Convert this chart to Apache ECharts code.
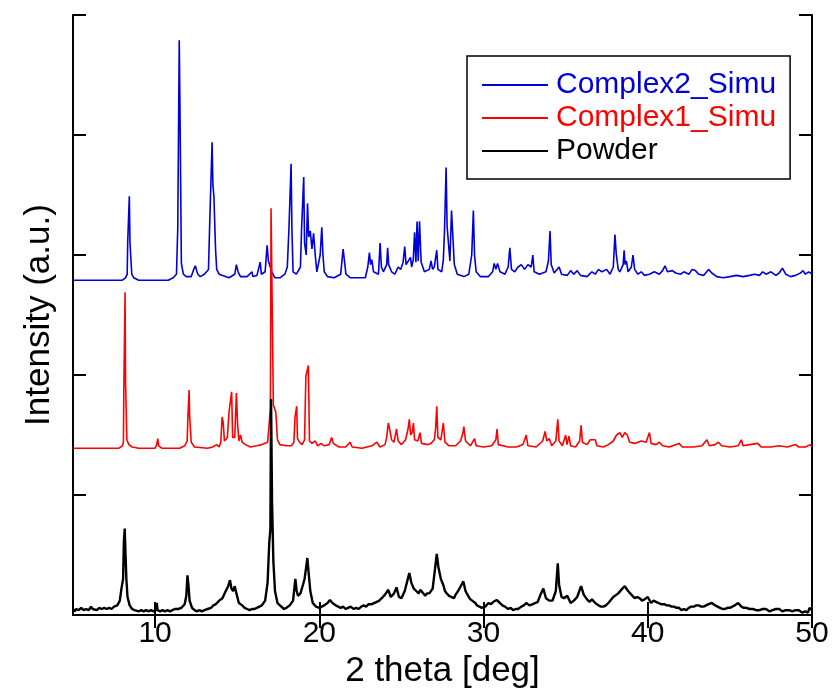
<!DOCTYPE html>
<html>
<head>
<meta charset="utf-8">
<script src="https://cdn.jsdelivr.net/npm/echarts@6/dist/echarts.min.js"></script>
<style>
  html, body { margin: 0; padding: 0; background: #fff; }
  #chart { width: 836px; height: 695px; }
</style>
</head>
<body>
<div id="chart"></div>
<script>
// 2 theta tick labels
const thetaTicks = [10, 20, 30, 40, 50]
const seriesNames = ['Complex2_Simu', 'Complex1_Simu', 'Powder']

// [2theta, intensity] (offset stacked)
const complex2Simu = [
  [5,2.79],[8.0,2.79],[8.2,2.81],[8.3,2.84],[8.33,3.10],[8.4,3.10],[8.43,3.49],[8.47,3.10],[8.55,3.10],[8.58,2.84],[8.7,2.81],[9.0,2.79],
  [10.8,2.79],[11.1,2.81],[11.3,2.84],[11.38,3.23],[11.44,3.23],[11.47,4.79],[11.51,4.28],[11.56,4.28],[11.6,2.93],[11.68,2.93],[11.72,2.84],
  [11.9,2.82],[12.2,2.82],[12.35,2.88],[12.45,2.91],[12.55,2.86],[12.6,2.84],[12.75,2.82],[13.0,2.84],[13.25,2.88],[13.32,3.24],[13.42,3.24],
  [13.47,3.94],[13.52,3.58],[13.58,3.49],[13.63,3.49],[13.68,3.05],[13.75,2.88],[13.9,2.84],[14.5,2.81],[14.85,2.84],[14.95,2.92],[15.05,2.86],
  [15.2,2.82],[15.6,2.82],[15.9,2.86],[15.95,2.82],[16.2,2.83],[16.4,2.94],[16.47,2.84],[16.7,2.86],[16.82,3.08],[16.9,2.95],[17.1,2.86],
  [17.3,2.81],[17.6,2.81],[17.9,2.84],[18.05,2.90],[18.15,3.22],[18.25,3.22],[18.28,3.76],[18.33,3.22],[18.4,2.86],[18.6,2.84],[18.85,2.90],
  [18.92,3.22],[19.0,3.22],[19.05,3.65],[19.1,3.10],[19.2,3.0],[19.28,3.43],[19.35,3.15],[19.45,3.2],[19.55,3.05],[19.65,3.18],[19.75,3.0],
  [19.85,2.86],[19.95,2.86],[20.05,3.0],[20.15,3.23],[20.22,3.0],[20.3,2.86],[20.5,2.82],[20.9,2.81],[21.3,2.84],[21.45,3.05],[21.55,3.05],
  [21.62,2.84],[21.9,2.81],[22.8,2.81],[22.95,2.9],[23.05,3.02],[23.12,2.92],[23.2,2.96],[23.3,2.86],[23.6,2.84],[23.7,3.10],[23.78,2.9],
  [23.9,2.86],[24.1,2.92],[24.16,3.06],[24.22,2.92],[24.4,2.86],[24.6,2.84],[24.8,2.9],[24.95,2.88],[25.1,2.94],[25.2,3.07],[25.28,2.92],
  [25.4,2.92],[25.55,2.98],[25.62,2.9],[25.72,2.96],[25.8,3.19],[25.88,2.94],[25.95,3.28],[26.02,2.95],[26.1,3.28],[26.2,2.94],[26.4,2.86],
  [26.7,2.88],[26.8,2.95],[26.9,2.88],[27.0,2.9],[27.15,3.04],[27.22,2.88],[27.45,2.86],[27.55,2.96],[27.62,3.19],[27.72,3.73],[27.78,3.24],
  [27.88,3.24],[27.95,2.95],[28.05,3.37],[28.15,3.37],[28.22,2.92],[28.4,2.84],[28.8,2.82],[29.1,2.84],[29.28,3.0],[29.38,3.37],[29.45,3.0],
  [29.55,2.86],[29.8,2.82],[30.3,2.82],[30.55,2.86],[30.65,2.93],[30.75,2.88],[30.85,2.93],[31.0,2.86],[31.3,2.84],[31.5,2.9],[31.6,3.06],
  [31.7,2.88],[31.9,2.86],[32.1,2.9],[32.3,2.92],[32.5,2.88],[32.7,2.92],[32.9,2.9],[33.0,3.0],[33.08,2.86],[33.4,2.84],[33.8,2.86],
  [33.95,2.95],[34.05,3.20],[34.12,2.92],[34.3,2.85],[34.6,2.9],[34.75,2.84],[35.1,2.83],[35.3,2.87],[35.5,2.84],[35.7,2.87],[35.9,2.83],
  [36.3,2.82],[36.6,2.86],[36.8,2.84],[37.0,2.88],[37.2,2.86],[37.5,2.88],[37.7,2.84],[37.9,2.9],[38.0,3.17],[38.08,3.01],[38.2,2.88],
  [38.3,2.86],[38.5,2.92],[38.56,3.04],[38.62,2.92],[38.7,2.95],[38.8,2.86],[39.0,2.9],[39.1,3.0],[39.2,2.88],[39.4,2.84],[39.6,2.86],
  [39.8,2.83],[40.1,2.84],[40.4,2.86],[40.7,2.84],[40.9,2.87],[41.05,2.91],[41.2,2.86],[41.5,2.87],[41.7,2.85],[42.0,2.84],[42.2,2.86],
  [42.5,2.84],[42.7,2.88],[42.9,2.87],[43.1,2.84],[43.4,2.83],[43.7,2.88],[43.9,2.85],[44.2,2.82],[44.6,2.81],[45.0,2.82],[45.4,2.83],
  [45.8,2.82],[46.2,2.83],[46.5,2.84],[46.8,2.83],[47.0,2.86],[47.2,2.84],[47.5,2.86],[47.8,2.83],[48.0,2.85],[48.2,2.89],[48.4,2.84],
  [48.7,2.82],[49.0,2.83],[49.3,2.85],[49.45,2.87],[49.6,2.84],[49.8,2.86],[50,2.84]
]

const complex1Simu = [
  [5,1.39],[7.8,1.39],[8.0,1.41],[8.07,1.44],[8.1,1.94],[8.15,1.94],[8.17,2.69],[8.2,1.94],[8.25,1.94],[8.28,1.46],[8.4,1.42],[8.6,1.40],
  [9.0,1.39],[10.0,1.39],[10.1,1.42],[10.16,1.47],[10.22,1.41],[10.4,1.39],[11.5,1.39],[11.8,1.41],[11.95,1.45],[12.0,1.66],[12.05,1.66],
  [12.07,1.875],[12.1,1.66],[12.15,1.66],[12.2,1.44],[12.4,1.40],[13.2,1.39],[13.5,1.40],[13.75,1.42],[13.9,1.40],[14.0,1.44],[14.08,1.65],
  [14.15,1.6],[14.22,1.45],[14.4,1.48],[14.5,1.69],[14.6,1.69],[14.66,1.86],[14.72,1.48],[14.85,1.48],[14.95,1.85],[15.02,1.6],[15.1,1.45],
  [15.2,1.5],[15.3,1.44],[15.5,1.42],[15.8,1.40],[16.2,1.41],[16.5,1.42],[16.6,1.41],[16.85,1.44],[16.95,1.6],[17.02,1.73],[17.06,3.39],
  [17.12,3.39],[17.2,1.75],[17.35,1.69],[17.45,1.46],[17.6,1.42],[18.0,1.41],[18.3,1.41],[18.45,1.44],[18.52,1.65],[18.58,1.65],[18.62,1.74],
  [18.67,1.47],[18.8,1.44],[18.95,1.42],[19.1,1.46],[19.18,1.99],[19.25,1.99],[19.33,2.08],[19.4,1.45],[19.55,1.43],[19.75,1.45],[19.9,1.41],
  [20.1,1.43],[20.3,1.41],[20.6,1.42],[20.75,1.48],[20.85,1.43],[21.2,1.40],[21.6,1.40],[21.87,1.44],[22.0,1.40],[22.6,1.39],[23.2,1.41],
  [23.5,1.44],[23.7,1.40],[24.0,1.42],[24.1,1.48],[24.2,1.60],[24.28,1.55],[24.4,1.46],[24.55,1.44],[24.7,1.55],[24.8,1.45],[25.0,1.42],
  [25.25,1.46],[25.4,1.55],[25.48,1.63],[25.56,1.5],[25.65,1.52],[25.73,1.6],[25.8,1.46],[26.0,1.45],[26.13,1.52],[26.22,1.43],[26.6,1.42],
  [26.8,1.43],[27.0,1.46],[27.08,1.55],[27.15,1.74],[27.22,1.48],[27.4,1.46],[27.55,1.6],[27.65,1.44],[27.9,1.41],[28.3,1.41],[28.6,1.45],
  [28.75,1.52],[28.8,1.57],[28.9,1.45],[29.2,1.41],[29.45,1.47],[29.55,1.41],[30.0,1.40],[30.5,1.41],[30.75,1.46],[30.82,1.55],[30.9,1.42],
  [31.5,1.40],[32.0,1.40],[32.4,1.42],[32.6,1.50],[32.7,1.41],[33.2,1.40],[33.6,1.45],[33.75,1.53],[33.85,1.45],[34.0,1.47],[34.15,1.41],
  [34.4,1.45],[34.52,1.63],[34.6,1.45],[34.8,1.41],[35.0,1.5],[35.08,1.42],[35.2,1.49],[35.3,1.41],[35.6,1.40],[35.85,1.45],[35.94,1.58],
  [36.02,1.44],[36.3,1.42],[36.5,1.46],[36.8,1.46],[36.9,1.41],[37.3,1.40],[37.6,1.42],[37.9,1.45],[38.1,1.50],[38.3,1.52],[38.45,1.48],
  [38.6,1.52],[38.75,1.50],[38.9,1.44],[39.2,1.43],[39.6,1.45],[39.9,1.44],[40.1,1.52],[40.2,1.43],[40.5,1.42],[40.7,1.44],[40.9,1.41],
  [41.3,1.40],[41.9,1.43],[42.1,1.40],[42.8,1.40],[43.3,1.41],[43.6,1.46],[43.75,1.41],[44.1,1.42],[44.3,1.44],[44.5,1.41],[45.0,1.40],
  [45.5,1.41],[45.7,1.46],[45.8,1.41],[46.2,1.42],[46.7,1.43],[46.9,1.40],[47.5,1.40],[48.0,1.41],[48.5,1.40],[49.0,1.42],[49.2,1.40],
  [49.6,1.40],[49.9,1.42],[50,1.40]
]

const powder = [
  [5,0.05],[5.1,0.03],[5.2,0.05],[5.35,0.04],[5.5,0.06],[5.65,0.04],[5.8,0.05],[5.95,0.04],[6.1,0.07],[6.2,0.05],[6.3,0.06],[6.45,0.04],
  [6.6,0.06],[6.75,0.05],[6.9,0.06],[7.05,0.05],[7.2,0.06],[7.35,0.05],[7.5,0.07],[7.6,0.06],[7.7,0.08],[7.85,0.12],
  [7.95,0.22],[8.05,0.30],[8.1,0.62],[8.15,0.72],[8.2,0.50],[8.25,0.30],[8.32,0.15],[8.45,0.08],[8.6,0.05],[8.75,0.04],[9.0,0.03],[9.15,0.04],
  [9.3,0.03],[9.45,0.04],[9.6,0.03],[9.75,0.04],[9.9,0.03],[10.05,0.04],[10.1,0.10],[10.15,0.04],[10.3,0.03],[10.45,0.04],[10.6,0.03],
  [10.75,0.04],[10.9,0.03],[11.05,0.04],[11.2,0.05],[11.4,0.05],[11.6,0.06],[11.8,0.09],[11.9,0.16],
  [11.97,0.33],[12.03,0.25],[12.1,0.12],[12.25,0.06],[12.4,0.04],[12.55,0.03],[12.7,0.04],[12.85,0.03],[13.0,0.04],[13.2,0.05],[13.4,0.06],
  [13.55,0.08],[13.7,0.09],[13.9,0.12],[14.1,0.14],[14.3,0.20],[14.45,0.24],[14.56,0.29],[14.65,0.22],[14.75,0.20],[14.85,0.24],[14.95,0.18],
  [15.1,0.10],[15.3,0.08],[15.45,0.06],[15.6,0.05],[15.75,0.04],[15.9,0.05],[16.05,0.05],[16.2,0.06],[16.35,0.07],[16.5,0.08],[16.7,0.12],
  [16.85,0.27],[16.95,0.60],[17.02,0.72],[17.06,1.80],[17.12,0.95],[17.2,0.45],[17.3,0.20],[17.45,0.10],[17.6,0.08],[17.7,0.07],[17.85,0.05],
  [18.0,0.06],[18.2,0.08],[18.4,0.12],[18.54,0.30],[18.62,0.20],[18.7,0.16],[18.85,0.18],[19.0,0.25],[19.1,0.30],[19.2,0.40],
  [19.27,0.475],[19.35,0.35],[19.45,0.20],[19.6,0.10],[19.7,0.09],[19.8,0.07],[19.9,0.08],[20.0,0.06],[20.15,0.07],[20.3,0.08],[20.5,0.10],
  [20.65,0.125],[20.8,0.10],[20.9,0.09],[21.0,0.08],[21.15,0.07],[21.3,0.06],[21.45,0.07],[21.6,0.05],[21.75,0.06],[21.9,0.07],[22.1,0.05],
  [22.25,0.06],[22.4,0.05],[22.55,0.07],[22.7,0.08],[22.85,0.07],[23.0,0.09],[23.1,0.10],[23.2,0.09],[23.3,0.08],[23.5,0.11],[23.65,0.12],
  [23.8,0.14],[24.0,0.17],[24.2,0.21],[24.35,0.15],[24.55,0.18],[24.7,0.23],[24.85,0.15],[25.0,0.14],[25.2,0.20],[25.35,0.28],[25.48,0.35],
  [25.6,0.27],[25.75,0.22],[25.9,0.20],[26.05,0.18],[26.15,0.21],[26.25,0.20],[26.45,0.16],[26.55,0.18],[26.7,0.18],[26.9,0.22],[27.05,0.39],
  [27.15,0.51],[27.25,0.40],[27.4,0.30],[27.55,0.25],[27.65,0.20],[27.75,0.18],[27.9,0.16],[28.0,0.15],[28.2,0.14],[28.3,0.17],[28.45,0.20],
  [28.65,0.25],[28.77,0.28],[28.9,0.20],[29.1,0.15],[29.2,0.13],[29.3,0.12],[29.5,0.10],[29.6,0.08],[29.7,0.07],[29.9,0.06],[30.0,0.05],
  [30.1,0.07],[30.3,0.10],[30.45,0.09],[30.6,0.11],[30.8,0.125],[31.0,0.10],[31.15,0.08],[31.3,0.07],[31.5,0.05],[31.65,0.06],[31.8,0.04],
  [31.95,0.05],[32.1,0.05],[32.3,0.07],[32.45,0.08],[32.6,0.10],[32.8,0.08],[33.0,0.09],[33.15,0.10],[33.3,0.11],[33.5,0.18],[33.64,0.22],
  [33.8,0.14],[34.0,0.12],[34.2,0.12],[34.4,0.20],[34.52,0.43],[34.6,0.25],[34.75,0.15],[34.9,0.14],[35.1,0.16],[35.3,0.10],[35.5,0.12],
  [35.7,0.15],[35.94,0.24],[36.1,0.17],[36.3,0.13],[36.45,0.11],[36.6,0.13],[36.8,0.10],[37.0,0.08],[37.15,0.07],[37.3,0.07],[37.45,0.08],
  [37.6,0.10],[37.9,0.15],[38.2,0.18],[38.45,0.22],[38.6,0.24],[38.8,0.20],[39.0,0.17],[39.2,0.14],[39.35,0.15],[39.5,0.14],[39.65,0.12],
  [39.8,0.13],[40.0,0.15],[40.2,0.10],[40.35,0.12],[40.5,0.11],[40.65,0.10],[40.8,0.09],[41.0,0.09],[41.15,0.08],[41.3,0.08],[41.45,0.07],
  [41.6,0.07],[41.75,0.06],[41.9,0.06],[42.05,0.04],[42.2,0.05],[42.35,0.04],[42.5,0.06],[42.65,0.07],[42.8,0.07],[42.95,0.08],[43.1,0.08],
  [43.25,0.07],[43.4,0.07],[43.55,0.08],[43.7,0.09],[43.9,0.10],[44.1,0.08],[44.25,0.07],[44.4,0.06],[44.55,0.05],[44.7,0.05],[44.85,0.06],
  [45.0,0.06],[45.15,0.07],[45.3,0.08],[45.5,0.10],[45.7,0.07],[45.85,0.06],[46.0,0.06],[46.2,0.05],[46.4,0.05],[46.6,0.04],[46.8,0.04],
  [47.0,0.05],[47.2,0.05],[47.4,0.03],[47.6,0.04],[47.8,0.05],[48.0,0.05],[48.2,0.03],[48.4,0.04],[48.6,0.04],[48.8,0.03],[49.0,0.04],
  [49.2,0.04],[49.4,0.02],[49.6,0.03],[49.75,0.02],[49.85,0.06],[50,0.04]
]

const colors = ['#0000d8', '#ff0000', '#000000']
const font = '"Liberation Sans", Arial, sans-serif'

const chart = echarts.init(document.getElementById('chart'))

const xCommon = {
  type: 'value', min: 5, max: 50,
  axisLine: { show: true, lineStyle: { color: '#000', width: 2 } },
  axisTick: { inside: true, length: 13, customValues: thetaTicks, lineStyle: { color: '#000', width: 2 } },
  splitLine: { show: false }
}
const yCommon = {
  type: 'value', min: 0, max: 5, interval: 1,
  axisLine: { show: true, lineStyle: { color: '#000', width: 2 } },
  axisTick: { inside: true, length: 13, lineStyle: { color: '#000', width: 2 } },
  axisLabel: { show: false },
  splitLine: { show: false }
}

const option = {
  animation: false,
  backgroundColor: '#fff',
  grid: { left: 73, right: 24, top: 15, bottom: 80 },
  legend: {
    orient: 'vertical',
    left: 467, top: 56,
    padding: [13, 14, 12, 15],
    itemWidth: 66, itemHeight: 2, itemGap: 1,
    icon: 'rect',
    borderColor: '#000', borderWidth: 1.5,
    textStyle: { fontFamily: font, fontSize: 30, lineHeight: 32, padding: [0, 0, 0, 3] },
    data: seriesNames.map((n, i) => ({ name: n, textStyle: { color: colors[i] } }))
  },
  xAxis: [
    Object.assign({}, xCommon, {
      position: 'bottom',
      name: '2 theta [deg]', nameLocation: 'middle', nameGap: 36,
      nameTextStyle: { fontFamily: font, fontSize: 35, color: '#000' },
      axisLabel: { customValues: thetaTicks, fontFamily: font, fontSize: 30, color: '#000', margin: 4 }
    }),
    Object.assign({}, xCommon, { position: 'top', axisLabel: { show: false } })
  ],
  yAxis: [
    Object.assign({}, yCommon, {
      position: 'left',
      name: 'Intensity (a.u.)', nameLocation: 'middle', nameGap: 16,
      nameTextStyle: { fontFamily: font, fontSize: 35, color: '#000' }
    }),
    Object.assign({}, yCommon, { position: 'right' })
  ],
  series: [complex2Simu, complex1Simu, powder].map((d, i) => ({
    name: seriesNames[i],
    type: 'line',
    data: d,
    symbol: 'none',
    showSymbol: false,
    color: colors[i],
    itemStyle: { color: colors[i] },
    lineStyle: { color: colors[i], width: i === 2 ? 2.4 : 1.6 }
  }))
}

chart.setOption(option)
</script>
</body>
</html>
